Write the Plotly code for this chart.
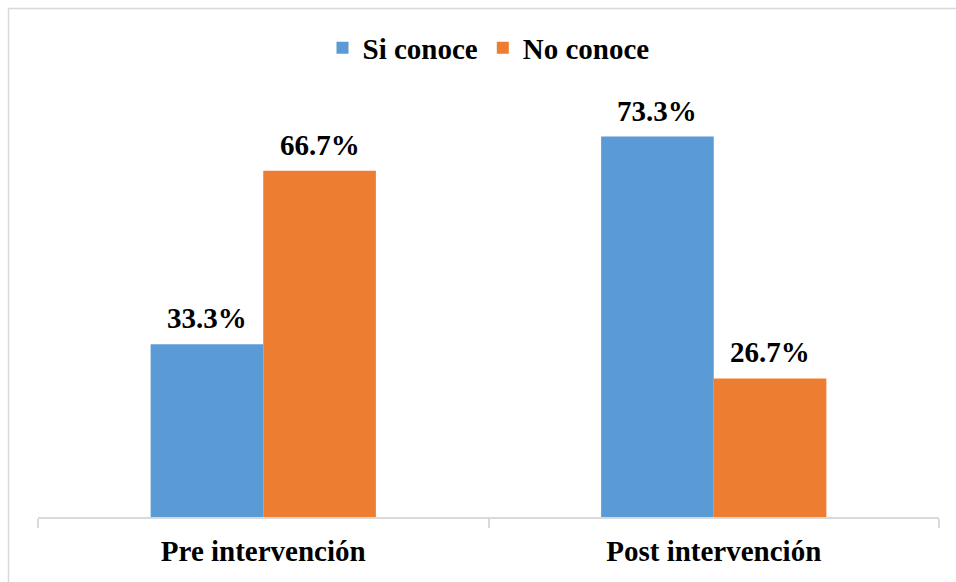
import plotly.graph_objects as go

categories = ["Pre intervención", "Post intervención"]
si_conoce = [33.3, 73.3]
no_conoce = [66.7, 26.7]
series_names = ["Si conoce", "No conoce"]
colors = ["#5B9BD5", "#ED7D31"]

W, H = 956, 582
L, R, T, B = 38, 17, 80, 65
pw, ph = W - L - R, H - T - B
ymax = ph / 5.19

def px_x(x):
    return (x - L) / pw

def px_y(y):
    return (H - B - y) / ph

FAM = "Liberation Serif"
big_font = dict(family=FAM, size=29, color="black")

fig = go.Figure()
series = [si_conoce, no_conoce]
for name, vals, c in zip(series_names, series, colors):
    fig.add_trace(go.Bar(
        x=categories, y=vals, name=f"<b>{name}</b>", marker=dict(color=c, line=dict(width=0)),
        hoverinfo="x+y",
    ))

# data labels as annotations above each bar
bar_px = pw / len(categories) * 0.5 / len(series)
for si, vals in enumerate(series):
    off = (si - (len(series) - 1) / 2) * bar_px
    for cat, v in zip(categories, vals):
        fig.add_annotation(x=cat, y=v, xref="x", yref="y", text=f"<b>{v:.1f}%</b>",
                           showarrow=False, font=big_font, xshift=off, yshift=26,
                           yanchor="middle", xanchor="center")

fig.update_layout(
    width=W, height=H,
    margin=dict(l=L, r=R, t=T, b=B),
    paper_bgcolor="white", plot_bgcolor="white",
    barmode="group", bargap=0.5, bargroupgap=0,
    font=big_font,
    legend=dict(orientation="h", x=0.5, xanchor="center", y=px_y(48), yanchor="middle",
                font=big_font, itemwidth=30, traceorder="normal"),
    showlegend=True,
)
fig.update_xaxes(
    showline=True, linecolor="#d9d9d9", linewidth=1.5,
    ticks="outside", tickson="boundaries", ticklen=9, tickcolor="#d9d9d9", tickwidth=1.5,
    tickfont=big_font, ticklabelstandoff=7,
    tickvals=categories, ticktext=[f"<b>{c}</b>" for c in categories],
    showgrid=False,
)
fig.update_yaxes(range=[0, ymax], visible=False, showgrid=False)

fig.add_shape(type="rect", xref="paper", yref="paper",
              x0=px_x(8.5), x1=px_x(970), y0=px_y(600), y1=px_y(8.5),
              line=dict(color="#d9d9d9", width=1.5), fillcolor="rgba(0,0,0,0)", layer="below")

fig.write_html("out.html")
